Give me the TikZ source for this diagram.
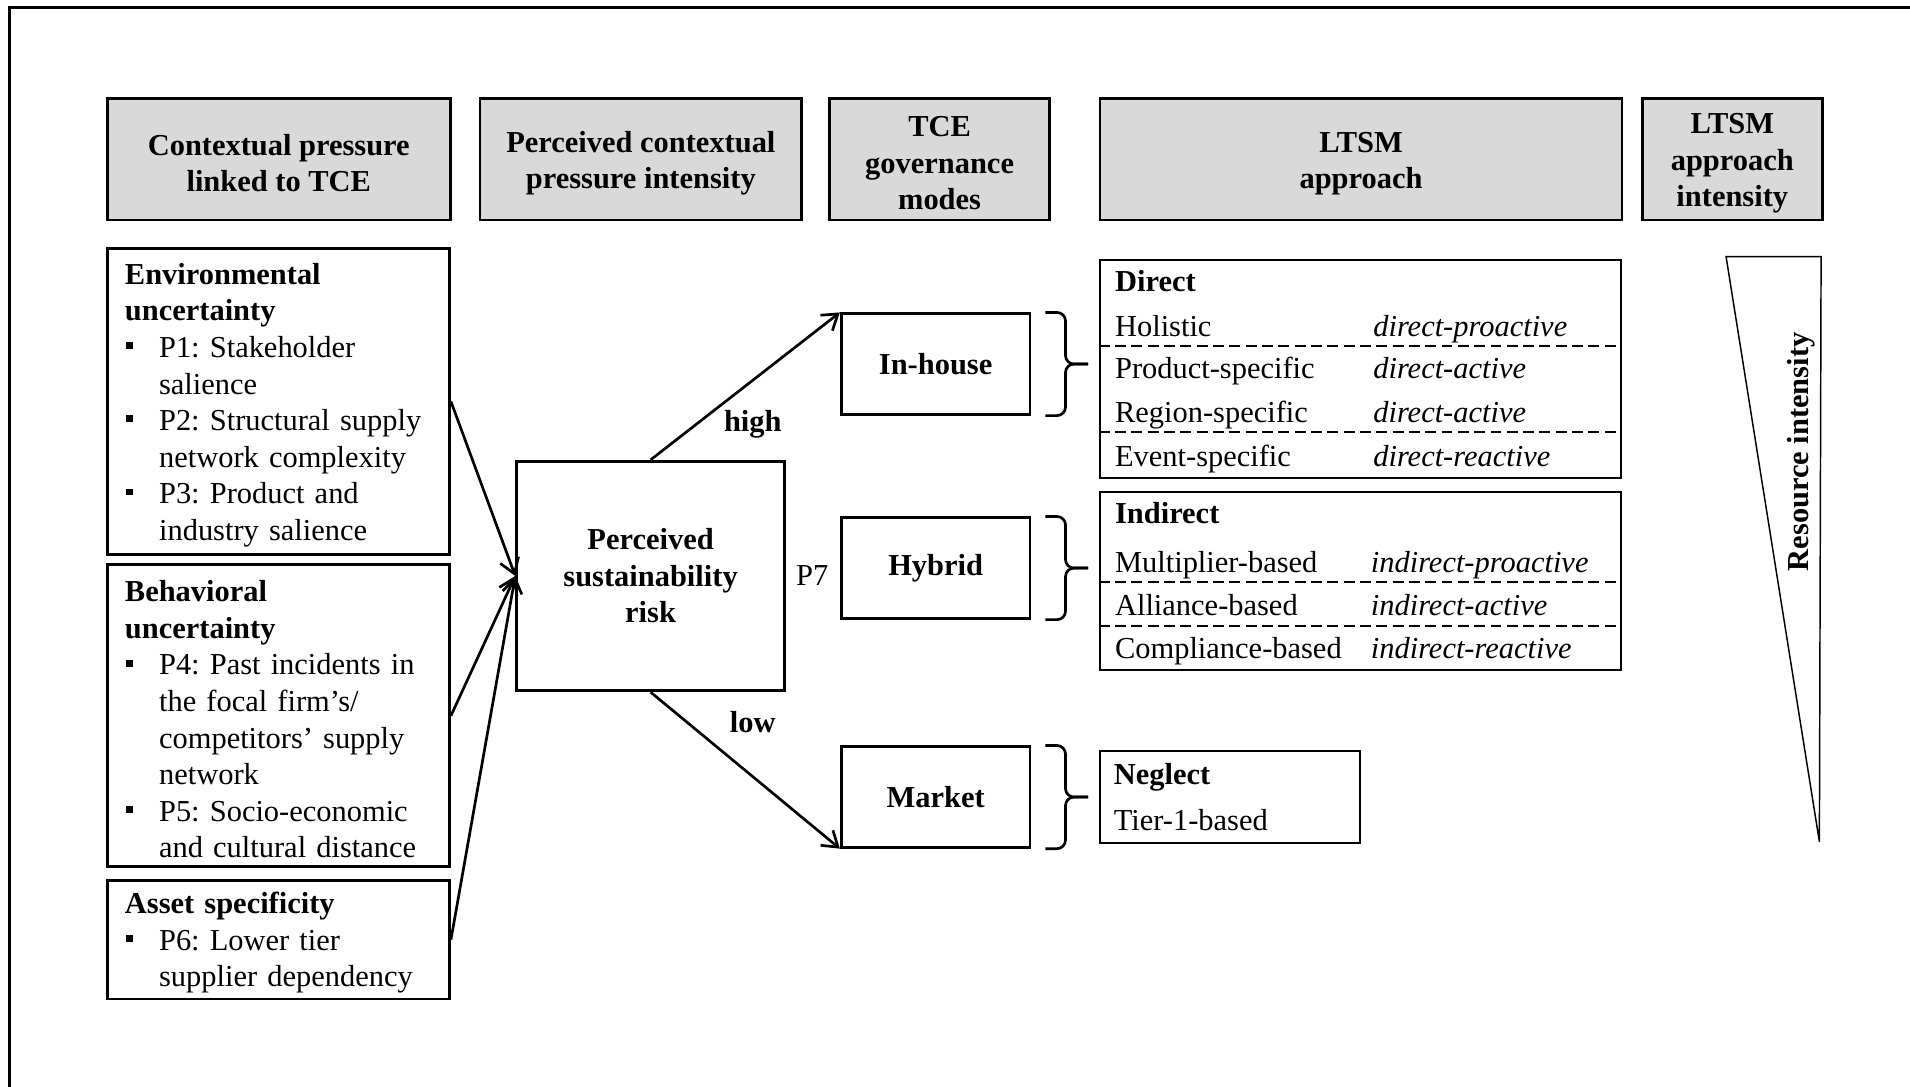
\documentclass[tikz,border=0pt]{standalone}
\usepackage{fontspec}
\setmainfont{Liberation Serif}
\usepackage{tikz}
\usetikzlibrary{arrows.meta, positioning}
\usepackage{xcolor}
\definecolor{headgray}{RGB}{217,217,217}

\newcommand{\figfont}{\fontsize{12.5pt}{15pt}\selectfont\frenchspacing}
% square bullet and hanging indent for the factor lists
\newcommand{\sqbul}{\makebox[14pt][l]{\hspace{0.5pt}\raisebox{3.4pt}{\rule{2.8pt}{2.8pt}}}}
\newcommand{\sqind}{\hspace*{14pt}}
\newcommand{\tstrut}{\rule{0pt}{11.6pt}}

\begin{document}
\begin{tikzpicture}[
    x=0.5pt, y=-0.5pt,
    font=\figfont,
    header/.style={rectangle, draw, line width=1.1pt, fill=headgray, anchor=north west, minimum height=49.8pt, align=center, inner sep=0pt, font=\figfont\bfseries},
    factor/.style={rectangle, draw, line width=1.1pt, anchor=north west, minimum width=140.5pt, text width=126pt, inner xsep=7.25pt, inner ysep=0pt, align=left},
    riskbox/.style={rectangle, draw, line width=1.1pt, anchor=north west, minimum width=110pt, minimum height=94.25pt, align=center, inner sep=0pt, font=\figfont\bfseries},
    govbox/.style={rectangle, draw, line width=1.1pt, anchor=north west, minimum width=77.5pt, minimum height=41.25pt, inner sep=0pt, font=\figfont\bfseries},
    approach/.style={rectangle, draw, line width=0.8pt, anchor=north west, inner sep=0pt},
    row/.style={anchor=base west, inner sep=0pt},
    rowhead/.style={anchor=base west, inner sep=0pt, font=\figfont\bfseries},
    mode/.style={anchor=base west, inner sep=0pt, font=\figfont\itshape},
    rowsep/.style={line width=0.8pt, dash pattern=on 4.5pt off 2.2pt},
    arr/.style={draw, line width=1.1pt, -{Straight Barb[length=6pt,width=8pt]}},
    govbrace/.style={draw, line width=1.1pt, rounded corners=3.5pt},
    lbl/.style={inner sep=0pt, font=\figfont\bfseries}
]
    \useasboundingbox (0,0) rectangle (1568,892);

    % Frame
    \draw[line width=1.2pt] (1568,6) -- (8,6) -- (8,892);

    % Column headers
    \node[header, minimum width=140.75pt] (hctx) at (87,80) {\tstrut Contextual pressure\\linked to TCE};
    \node[header, minimum width=132pt] (hint) at (393,80) {\tstrut Perceived contextual\\pressure intensity};
    \node[header, minimum width=90.25pt] (hgov) at (680,80) {\tstrut TCE\\governance\\modes};
    \node[header, minimum width=214.25pt] (hltsm) at (902,80) {\tstrut LTSM\\approach};
    \node[header, minimum width=74pt] (hlint) at (1347,80) {\tstrut LTSM\\approach\\intensity};

    % Contextual pressures
    \node[factor, minimum height=125.5pt] (envunc) at (87,203) {\tstrut\textbf{Environmental}\\\textbf{uncertainty}\\\sqbul P1: Stakeholder\\\sqind salience\\\sqbul P2: Structural supply\\\sqind network complexity\\\sqbul P3: Product and\\\sqind industry salience};
    \node[factor, minimum height=124pt] (behunc) at (87,462.5) {\tstrut\textbf{Behavioral}\\\textbf{uncertainty}\\\sqbul P4: Past incidents in\\\sqind the focal firm’s/\\\sqind competitors’ supply\\\sqind network\\\sqbul P5: Socio-economic\\\sqind and cultural distance};
    \node[factor, minimum height=48.75pt] (asset) at (87,721.5) {\tstrut\textbf{Asset specificity}\\\sqbul P6: Lower tier\\\sqind supplier dependency};

    % Perceived risk
    \node[riskbox] (risk) at (423,377.5) {Perceived\\sustainability\\risk};
    \node[inner sep=0pt, right=4pt of risk] (p7) {P7};

    % Governance modes
    \node[govbox] (inhouse) at (689.5,256.5) {In-house};
    \node[govbox] (hybrid) at (689.5,424) {Hybrid};
    \node[govbox] (market) at (689.5,612) {Market};

    % LTSM approaches
    \node[approach, minimum width=213.85pt, minimum height=89.45pt] (direct) at (902,212.7) {};
    \node[rowhead] (dirhead) at (915,239.5) {Direct};
    \node[row] (holistic) at (915,276) {Holistic};
    \node[mode] (holisticm) at (1127,276) {direct-proactive};
    \node[row] (product) at (915,310.5) {Product-specific};
    \node[mode] (productm) at (1127,310.5) {direct-active};
    \node[row] (region) at (915,347) {Region-specific};
    \node[mode] (regionm) at (1127,347) {direct-active};
    \node[row] (event) at (915,383) {Event-specific};
    \node[mode] (eventm) at (1127,383) {direct-reactive};
    \draw[rowsep] (902,284) -- (1329.7,284);
    \draw[rowsep] (902,355) -- (1329.7,355);

    \node[approach, minimum width=213.85pt, minimum height=73.35pt] (indirect) at (902,402.8) {};
    \node[rowhead] (indhead) at (915,430) {Indirect};
    \node[row] (multiplier) at (915,470) {Multiplier-based};
    \node[mode] (multiplierm) at (1125,470) {indirect-proactive};
    \node[row] (alliance) at (915,505.7) {Alliance-based};
    \node[mode] (alliancem) at (1125,505.7) {indirect-active};
    \node[row] (compliance) at (915,540.5) {Compliance-based};
    \node[mode] (compliancem) at (1125,540.5) {indirect-reactive};
    \draw[rowsep] (902,477.5) -- (1329.7,477.5);
    \draw[rowsep] (902,513.7) -- (1329.7,513.7);

    \node[approach, minimum width=106.85pt, minimum height=37.9pt] (neglect) at (902,615.8) {};
    \node[rowhead] (neghead) at (914,643.7) {Neglect};
    \node[row] (tierone) at (914,682) {Tier-1-based};

    % Resource intensity wedge
    \draw[line width=0.6pt] (1417,210.7) -- (1495,210.7) -- (1493.6,691) -- cycle;
    \node[rotate=90, inner sep=0pt, font=\figfont\bfseries] (resint) at (1479,371) {Resource intensity};

    % Relationships
    \draw[arr] (envunc.east) -- (risk.west);
    \draw[arr] (behunc.east) -- (risk.west);
    \draw[arr] (asset.east) -- (risk.west);
    \draw[arr] (risk.north) -- node[lbl, pos=0.54, below=12pt] (highlbl) {high} (inhouse.north west);
    \draw[arr] (risk.south) -- node[lbl, pos=0.54, above=17.6pt] (lowlbl) {low} (market.south west);

    % Braces
    \draw[govbrace] ([xshift=5.75pt]inhouse.north east) -| ([xshift=14pt]inhouse.east) -- ++(9.25pt,0);
    \draw[govbrace] ([xshift=5.75pt]inhouse.south east) -| ([xshift=14pt]inhouse.east) -- ++(9.25pt,0);
    \draw[govbrace] ([xshift=5.75pt]hybrid.north east) -| ([xshift=14pt]hybrid.east) -- ++(9.25pt,0);
    \draw[govbrace] ([xshift=5.75pt]hybrid.south east) -| ([xshift=14pt]hybrid.east) -- ++(9.25pt,0);
    \draw[govbrace] ([xshift=5.75pt]market.north east) -| ([xshift=14pt]market.east) -- ++(9.25pt,0);
    \draw[govbrace] ([xshift=5.75pt]market.south east) -| ([xshift=14pt]market.east) -- ++(9.25pt,0);
\end{tikzpicture}
\end{document}
